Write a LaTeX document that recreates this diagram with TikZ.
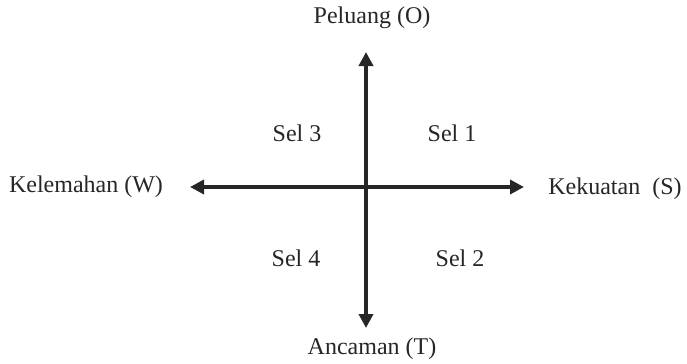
\documentclass[tikz,border=0pt]{standalone}
\usepackage{fontspec}
\setmainfont{Liberation Serif}
\usepackage{tikz}
\usetikzlibrary{arrows.meta,positioning}

\begin{document}
\begin{tikzpicture}[x=0.5pt, y=-0.5pt,
  axis/.style={{Triangle[length=7pt,width=7pt]}-{Triangle[length=7pt,width=7pt]}, line width=2.1pt, black!85},
  lbl/.style={font=\fontsize{12}{14}\selectfont, text=black!85, inner sep=0pt},
  cell/.style={font=\fontsize{12}{14}\selectfont, text=black!85, inner sep=0pt}
]
  \useasboundingbox (0,0) rectangle (687,364);

  % Axis ends
  \coordinate (top) at (366,52);
  \coordinate (bot) at (366,328);
  \coordinate (lft) at (190,187);
  \coordinate (rgt) at (524,187);

  % Axis labels
  \node[lbl] (O) at (372,18) {Peluang (O)};
  \node[lbl] (T) at (372,349) {Ancaman (T)};
  \node[lbl] (W) at (86,187) {Kelemahan (W)};
  \node[lbl] (S) at (615,189) {Kekuatan~~(S)};

  % Cells
  \node[cell] (sel3) at (297,133) {Sel 3};
  \node[cell] (sel1) at (452,133) {Sel 1};
  \node[cell] (sel4) at (296,258) {Sel 4};
  \node[cell] (sel2) at (460,258) {Sel 2};

  % Axes
  \draw[axis] (bot) -- (top);
  \draw[axis] (lft) -- (rgt);

\end{tikzpicture}
\end{document}
